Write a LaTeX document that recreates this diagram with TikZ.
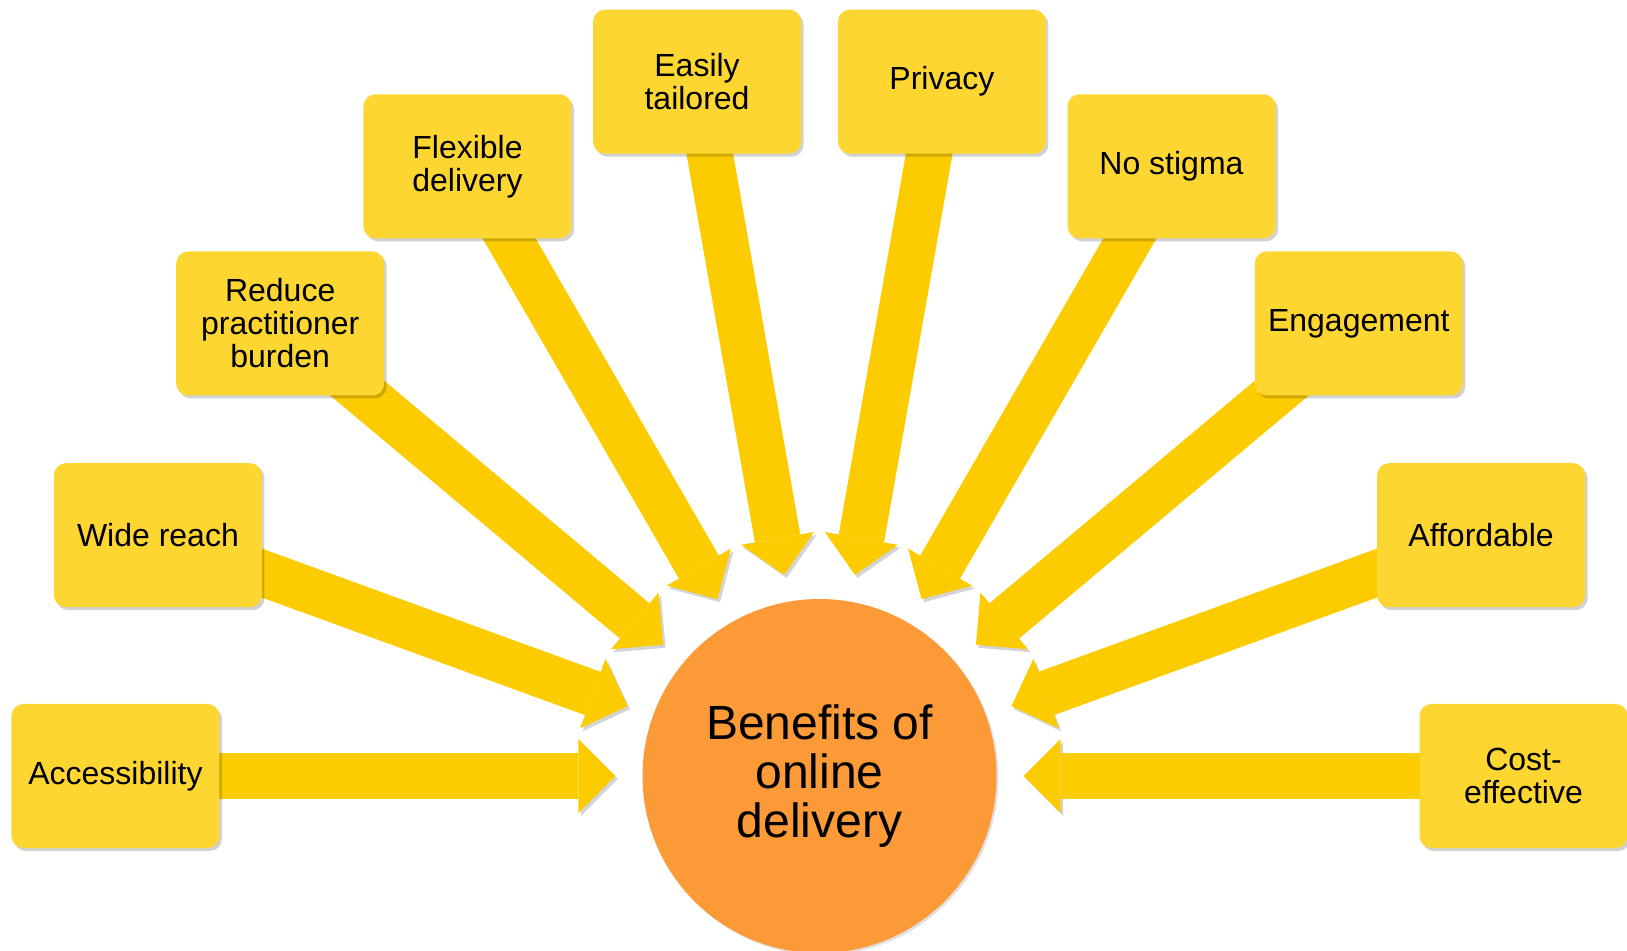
\documentclass[tikz,border=0pt]{standalone}
\usepackage{fontspec}
\setmainfont{Liberation Sans}
\usetikzlibrary{arrows.meta, shadows, backgrounds}
\definecolor{box_yellow}{RGB}{254, 214, 50}
\definecolor{arrow_gold}{RGB}{252, 204, 0}
\definecolor{hub_orange}{RGB}{253, 154, 56}
\definecolor{shade_grey}{RGB}{212, 212, 212}

\begin{document}
\begin{tikzpicture}[x=1pt, y=1pt,
		benefit/.style={rectangle, rounded corners=12pt, fill=box_yellow, minimum width=208pt, minimum height=144pt, inner sep=4pt, align=center, font=\fontsize{32}{33}\selectfont, drop shadow={shadow xshift=2.5pt, shadow yshift=-3pt, opacity=0.18, fill=black}},
		hub/.style={circle, fill=hub_orange, minimum size=354pt, inner sep=0pt, align=center, font=\fontsize{48}{49}\selectfont, drop shadow={shadow xshift=2pt, shadow yshift=-2pt, opacity=0.12, fill=black}},
		spoke/.style={line width=46pt, draw=arrow_gold, shorten >=27pt, -{Triangle[width=74pt, length=37pt, line width=0pt]}, preaction={draw=shade_grey, transform canvas={shift={(2.5pt,-3pt)}}}}]
				\useasboundingbox (-819.5,-174) rectangle (807.5,776);
				
				% centre circle
				\node[hub] (hub) at (0,0) {Benefits of\\online\\delivery};
				
				% benefit boxes
				\node[benefit] (access) at (180:704) {Accessibility};
				\node[benefit] (reach) at (160:704) {Wide reach};
				\node[benefit] (burden) at (140:704) {Reduce\\practitioner\\burden};
				\node[benefit] (flexible) at (120:704) {Flexible\\delivery};
				\node[benefit] (tailored) at (100:705) {Easily\\tailored};
				\node[benefit] (privacy) at (80:705) {Privacy};
				\node[benefit] (stigma) at (60:704) {No stigma};
				\node[benefit] (engage) at (40:704) {Engagement};
				\node[benefit] (afford) at (20:704) {Affordable};
				\node[benefit] (cost) at (0:704) {Cost-\\effective};
				
				% arrows into the circle
				\begin{scope}[on background layer]
					\draw[spoke] (access.center) -- (hub);
					\draw[spoke] (reach.center) -- (hub);
					\draw[spoke] (burden.center) -- (hub);
					\draw[spoke] (flexible.center) -- (hub);
					\draw[spoke] (tailored.center) -- (hub);
					\draw[spoke] (privacy.center) -- (hub);
					\draw[spoke] (stigma.center) -- (hub);
					\draw[spoke] (engage.center) -- (hub);
					\draw[spoke] (afford.center) -- (hub);
					\draw[spoke] (cost.center) -- (hub);
				\end{scope}
				
				\end{tikzpicture}
\end{document}
